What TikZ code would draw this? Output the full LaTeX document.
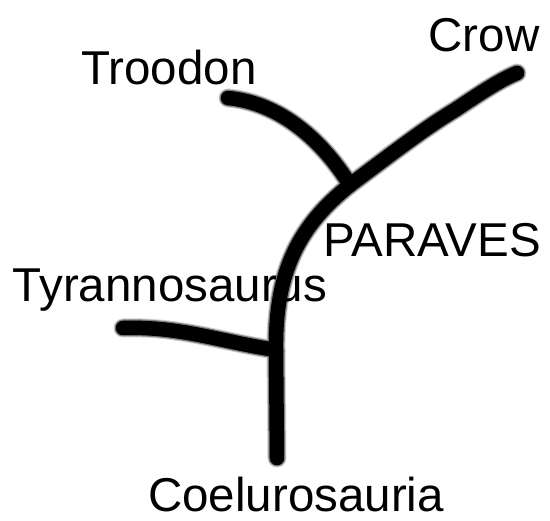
\documentclass[tikz,border=0pt]{standalone}
\usepackage{fontspec}
\setmainfont{Liberation Sans}
\begin{document}
\begin{tikzpicture}[x=1pt,y=-1pt,
  lbl/.style={font=\fontsize{47.5}{52}\selectfont, inner sep=0pt, text=black},
  halo/.style={line width=19pt, draw=black!18, line cap=round, line join=round},
  halo2/.style={line width=17pt, draw=black!50, line cap=round, line join=round},
  branch/.style={line width=14.5pt, draw=black, line cap=round, line join=round}]
\useasboundingbox[fill=white] (0,0) rectangle (550,521);
% named points
\coordinate (root) at (277,458);
\coordinate (jt) at (276,350);
\coordinate (jp) at (350,185);
\coordinate (tyr) at (123,328);
\coordinate (troo) at (228,98);
\coordinate (cmid) at (455,110);
\coordinate (crow) at (517,73);
\foreach \s in {halo,halo2,branch}{
  \draw[\s] (root) -- (jt) .. controls (275,270) and (300,225) .. (jp)
     .. controls (390,155) and (425,128) .. (cmid) .. controls (482,92) and (500,80) .. (crow);
  \draw[\s] (troo) .. controls (280,103) and (322,140) .. (jp);
  \draw[\s] (tyr) .. controls (180,326) and (222,342) .. (jt);
}
% labels
\node[lbl] (lcrow) at (484,35) {Crow};
\node[lbl] (ltroo) at (169,68) {Troodon};
\node[lbl] (lpar) at (432,240) {PARAVES};
\node[lbl] (ltyr) at (170,290) {Tyrannosaurus};
\node[lbl] (lcoel) at (296,495) {Coelurosauria};
\end{tikzpicture}
\end{document}
